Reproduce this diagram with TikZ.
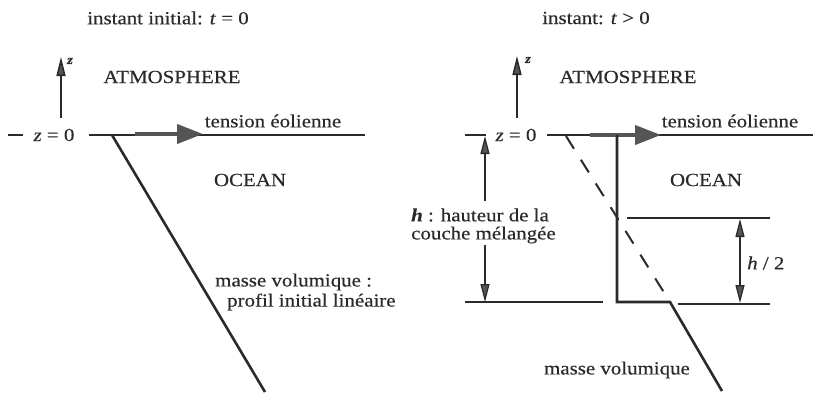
\documentclass[tikz,border=0pt]{standalone}
\usepackage{fontspec}
\setmainfont{Liberation Serif}[FakeStretch=1.13,FakeBold=0.4]
\usetikzlibrary{arrows.meta}
\definecolor{ink}{HTML}{2A2A2A}
\definecolor{arrowgray}{HTML}{555555}
\begin{document}
\begin{tikzpicture}[x=1pt,y=-1pt,
  txt/.style={inner sep=0pt,text=ink,font=\fontsize{18.5}{21}\selectfont},
  zlab/.style={inner sep=0pt,text=ink,font=\fontsize{13}{14}\selectfont\bfseries\itshape},
  thin line/.style={draw=ink,line width=1.5pt},
  profile/.style={draw=ink,line width=2.6pt},
  zarrow/.style={draw=ink,line width=1.6pt,-{Triangle[length=19pt,width=9pt,fill=arrowgray]}},
  darrow/.style={draw=ink,line width=1.3pt,-{Triangle[length=18pt,width=9pt,fill=arrowgray]}},
  tarrow/.style={draw=arrowgray,line width=4pt,-{Triangle[length=26pt,width=19pt,fill=arrowgray]}},
  dashprofile/.style={draw=ink,line width=2pt,dash pattern=on 15pt off 13pt}]
\useasboundingbox (0,0) rectangle (813,392);

% ---------------- left panel ----------------
\node[txt] (titleL) at (168,18) {instant initial: \textit{t} = 0};
\node[txt] (atmL) at (172,77) {ATMOSPHERE};
\node[txt] (tensL) at (273,121) {tension éolienne};
\node[txt] (oceL) at (250,180) {OCEAN};
\node[txt] (zeroL) at (54,135) {\textit{z} = 0};
\node[txt,anchor=west] (masL1) at (215,282) {masse volumique :};
\node[txt,anchor=west] (masL2) at (227,302) {profil initial linéaire};

\coordinate (tickLa) at (8,135);
\coordinate (tickLb) at (23,135);
\coordinate (surfLa) at (89,135);
\coordinate (surfLb) at (365,135);
\coordinate (zLa) at (61,118);
\coordinate (zLb) at (61,57);
\node[zlab] (zL) at (70,61) {z};
\coordinate (wLa) at (135,134);
\coordinate (wLb) at (203,134);
\coordinate (pLa) at (112,135);
\coordinate (pLb) at (265,392);

\draw[thin line] (tickLa) -- (tickLb);
\draw[thin line] (surfLa) -- (surfLb);
\draw[zarrow] (zLa) -- (zLb);
\draw[tarrow] (wLa) -- (wLb);
\draw[profile] (pLa) -- (pLb);

% ---------------- right panel ----------------
\node[txt] (titleR) at (596,18) {instant: \textit{t} > 0};
\node[txt] (atmR) at (628,77) {ATMOSPHERE};
\node[txt] (tensR) at (730,121) {tension éolienne};
\node[txt] (oceR) at (706,180) {OCEAN};
\node[txt] (zeroR) at (516,135) {\textit{z} = 0};
\node[txt,anchor=west] (hL1) at (411,215) {\textbf{\textit{h}} : hauteur de la};
\node[txt,anchor=west] (hL2) at (411,235) {couche mélangée};
\node[txt,anchor=west] (h2) at (747,263) {\textit{h} / 2};
\node[txt] (masR) at (617,370) {masse volumique};
\node[zlab] (zR) at (528,60) {z};

\coordinate (tickRa) at (465,135);
\coordinate (tickRb) at (486,135);
\coordinate (hUpa) at (485,201);
\coordinate (hUpb) at (485,136);
\coordinate (hDna) at (485,245);
\coordinate (hDnb) at (485,302);
\coordinate (surfRa) at (547,135);
\coordinate (surfRb) at (813,135);
\coordinate (zRa) at (517,118);
\coordinate (zRb) at (517,56);
\coordinate (wRa) at (590,135);
\coordinate (wRb) at (661,135);
\coordinate (dA) at (566,136);
\coordinate (dB) at (670,302);
\coordinate (mA) at (617,135);
\coordinate (mB) at (617,302);
\coordinate (mC) at (722,391);
\coordinate (baseLa) at (465,302);
\coordinate (baseLb) at (603,302);
\coordinate (midRa) at (627,218);
\coordinate (midRb) at (770,218);
\coordinate (baseRa) at (678,304);
\coordinate (baseRb) at (770,304);
\coordinate (hhA) at (740,219);
\coordinate (hhB) at (740,303);
\coordinate (hhM) at (740,261);

\draw[thin line] (tickRa) -- (tickRb);
\draw[darrow] (hUpa) -- (hUpb);
\draw[darrow] (hDna) -- (hDnb);
\draw[thin line] (surfRa) -- (surfRb);
\draw[zarrow] (zRa) -- (zRb);
\draw[tarrow] (wRa) -- (wRb);
\draw[dashprofile] (dA) -- (dB);
\draw[profile,line join=miter] (mA) -- (mB) -- (dB) -- (mC);
\draw[thin line] (baseLa) -- (baseLb);
\draw[thin line] (midRa) -- (midRb);
\draw[thin line] (baseRa) -- (baseRb);
\draw[darrow] (hhM) -- (hhA);
\draw[darrow] (hhM) -- (hhB);
\end{tikzpicture}
\end{document}
